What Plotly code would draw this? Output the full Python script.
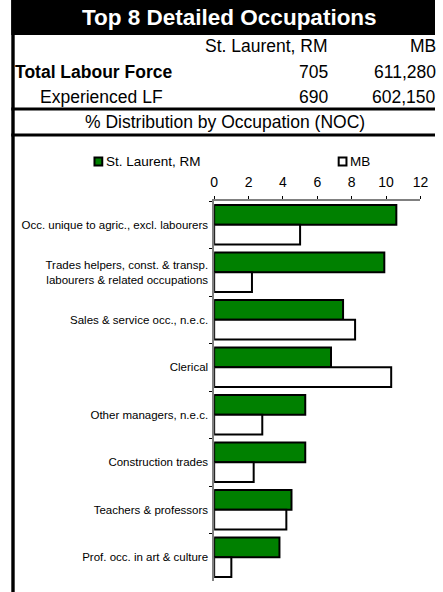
import plotly.graph_objects as go

W, H = 443, 592

categories = [
    "Occ. unique to agric., excl. labourers",
    "Trades helpers, const. & transp.<br>labourers & related occupations",
    "Sales & service occ., n.e.c.",
    "Clerical",
    "Other managers, n.e.c.",
    "Construction trades",
    "Teachers & professors",
    "Prof. occ. in art & culture",
]
st_laurent = [10.6, 9.9, 7.5, 6.8, 5.3, 5.3, 4.5, 3.8]
mb = [5.0, 2.2, 8.2, 10.3, 2.8, 2.3, 4.2, 1.0]
series_names = ["St. Laurent, RM", "MB"]
x_ticks = [0, 2, 4, 6, 8, 10, 12]

title = "Top 8 Detailed Occupations"
table_rows = [
    ("", "St. Laurent, RM", "MB"),
    ("Total Labour Force", "705", "611,280"),
    ("Experienced LF", "690", "602,150"),
]
subtitle = "% Distribution by Occupation (NOC)"

FONT = "Liberation Sans, Arial, sans-serif"


def px(x):
    return x / W


def py(y):
    return 1 - y / H


fig = go.Figure()
fig.add_trace(go.Bar(
    y=categories, x=st_laurent, orientation="h", name=series_names[0],
    marker=dict(color="#008000", line=dict(color="black", width=2)),
    showlegend=False,
))
fig.add_trace(go.Bar(
    y=categories, x=mb, orientation="h", name=series_names[1],
    marker=dict(color="white", line=dict(color="black", width=2)),
    showlegend=False,
))

shapes = []
annotations = []

# header black bar
shapes.append(dict(type="rect", xref="paper", yref="paper",
                   x0=px(7.5), x1=1, y0=py(35), y1=1,
                   fillcolor="black", line=dict(width=0), layer="below"))
# left border
shapes.append(dict(type="rect", xref="paper", yref="paper",
                   x0=px(7.5), x1=px(11), y0=0, y1=1,
                   fillcolor="black", line=dict(width=0)))
# table lines
for yy in (109, 135):
    shapes.append(dict(type="rect", xref="paper", yref="paper",
                       x0=px(7.5), x1=1, y0=py(yy + 1.5), y1=py(yy - 1.5),
                       fillcolor="black", line=dict(width=0)))

annotations.append(dict(text="<b>" + title + "</b>", x=px(232), y=py(18),
                        xref="paper", yref="paper", showarrow=False,
                        xanchor="center", yanchor="middle",
                        font=dict(family=FONT, size=22.5, color="white")))

row_y = [46, 72, 97]
for (lab, v1, v2), yy in zip(table_rows, row_y):
    if lab:
        bold = lab.startswith("Total")
        annotations.append(dict(text=("<b>" + lab + "</b>") if bold else lab,
                                x=px(9 if bold else 35), y=py(yy),
                                xref="paper", yref="paper", showarrow=False,
                                xanchor="left", yanchor="middle",
                                font=dict(family=FONT, size=17.5, color="black")))
    annotations.append(dict(text=v1, x=px(335), y=py(yy), xref="paper", yref="paper",
                            showarrow=False, xanchor="right", yanchor="middle",
                            font=dict(family=FONT, size=17.5, color="black")))
    annotations.append(dict(text=v2, x=px(446), y=py(yy), xref="paper", yref="paper",
                            showarrow=False, xanchor="right", yanchor="middle",
                            font=dict(family=FONT, size=17.5, color="black")))

annotations.append(dict(text=subtitle, x=px(227), y=py(122), xref="paper", yref="paper",
                        showarrow=False, xanchor="center", yanchor="middle",
                        font=dict(family=FONT, size=17.5, color="black")))

# legend (manual)
leg = [(93, "#008000", series_names[0]), (344, "white", series_names[1])]
for x0, col, name in leg:
    shapes.append(dict(type="rect", xref="paper", yref="paper",
                       x0=px(x0), x1=px(x0 + 8), y0=py(165.5), y1=py(157.5),
                       fillcolor=col, line=dict(color="black", width=2)))
    annotations.append(dict(text=name, x=px(x0 + 10), y=py(161.5), xref="paper", yref="paper",
                            showarrow=False, xanchor="left", yanchor="middle",
                            font=dict(family=FONT, size=13.5, color="black")))

fig.update_layout(
    width=W, height=H,
    margin=dict(l=0, r=0, t=0, b=0),
    paper_bgcolor="white", plot_bgcolor="white",
    barmode="group", bargap=0.17, bargroupgap=0,
    shapes=shapes, annotations=annotations,
    font=dict(family=FONT, color="black"),
    hovermode=False,
    xaxis=dict(
        domain=[px(216), px(428)], range=[0, 12], side="top",
        tickvals=x_ticks, ticktext=[str(t) for t in x_ticks],
        showgrid=False, zeroline=False,
        showline=True, linecolor="#808080", linewidth=1.5,
        ticks="outside", ticklen=3, tickcolor="black", tickwidth=1,
        tickfont=dict(family=FONT, size=14, color="black"),
        ticklabelstandoff=4,
    ),
    yaxis=dict(
        domain=[py(581), py(201)], autorange="reversed",
        showgrid=False, zeroline=False,
        showline=True, linecolor="#808080", linewidth=1.5,
        ticks="outside", ticklen=3, tickcolor="black", tickwidth=1,
        tickson="boundaries",
        tickfont=dict(family=FONT, size=11.5, color="black"),
        ticklabelstandoff=2,
    ),
)

# remove the browser's default body margin so the 443x592 figure fills the window exactly
fig.write_html(
    "out.html",
    config={"displayModeBar": False},
    post_script="document.body.style.margin='0';document.body.style.overflow='hidden';",
)
